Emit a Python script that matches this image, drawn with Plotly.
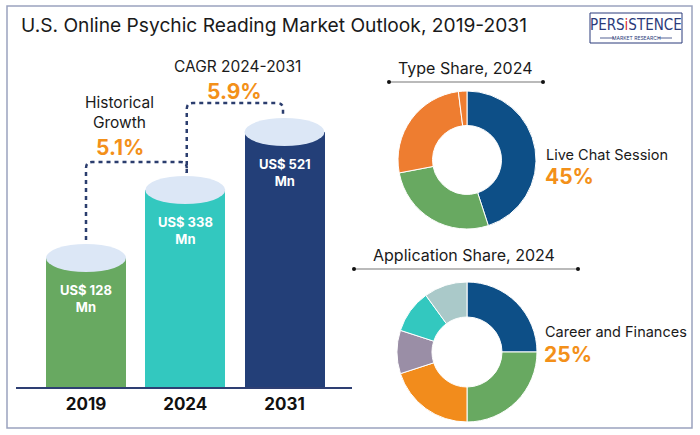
import plotly.graph_objects as go

W, H = 700, 435
FONT = "Inter, Open Sans, sans-serif"

# ---- data ----
years = ["2019", "2024", "2031"]
market_values = [128, 338, 521]          # US$ Mn (labels)
bar_heights = [129, 197, 255]            # drawn heights (infographic scale)
bar_colors = ["#68a961", "#33c8bf", "#233f78"]

hist_cagr = "5.1%"
fcst_cagr = "5.9%"

type_labels = ["Live Chat Session", "Phone Reading", "Video Reading", "Email Reading"]
type_values = [45, 27, 26, 2]
type_colors = ["#0d4f87", "#68a961", "#ee7d30", "#ee7d30"]

app_labels = ["Career and Finances", "Love and Relationships", "Health and Wellness",
              "Spiritual Guidance", "Family", "Others"]
app_values = [25, 25, 20, 10, 10, 10]
app_colors = ["#0d4f87", "#68a961", "#f28c1c", "#9a8ea6", "#33c8bf", "#aac9c9"]


def px(x):
    return x / W


def py(y):
    return 1 - y / H


fig = go.Figure()

# bar axis geometry (pixels)
base_px = 387
top_px = 50
step_px = 99.25
left_px, right_px = 16, 352
c0_px = 86
xr = [(left_px - c0_px) / step_px, (right_px - c0_px) / step_px]
bar_w = 80 / step_px
ry = 14

xs = list(range(len(years)))
fig.add_trace(go.Bar(
    x=xs, y=bar_heights, width=bar_w, marker=dict(color=bar_colors, line=dict(width=0)),
    hoverinfo="skip", showlegend=False, xaxis="x", yaxis="y",
))

shapes = []
annotations = []


def ann(**kw):
    kw.setdefault("showarrow", False)
    kw.setdefault("xanchor", "center")
    kw.setdefault("yanchor", "middle")
    annotations.append(dict(**kw))


# cylinder tops
for i, h in enumerate(bar_heights):
    shapes.append(dict(type="circle", xref="x", yref="y",
                       x0=i - bar_w / 2, x1=i + bar_w / 2, y0=h - ry, y1=h + ry,
                       fillcolor="#dce7f6", line=dict(width=0), layer="above"))
    ann(xref="x", yref="y", x=i, y=h - 40,
        text=f"<b>US$ {market_values[i]}<br>Mn</b>",
        font=dict(family=FONT, size=13, color="white"), align="center")


# dashed connectors with rounded corners
def connector(xa, ya, xb, yb, ylev):
    rx = 6 / step_px
    r = 6
    return (f"M {xa},{ya} L {xa},{ylev - r} Q {xa},{ylev} {xa + rx},{ylev} "
            f"L {xb - rx},{ylev} Q {xb},{ylev} {xb},{ylev - r} L {xb},{yb}")


xm = 1 + 1.5 / step_px
shapes.append(dict(type="path", xref="x", yref="y",
                   path=connector(0, bar_heights[0] + ry + 4, xm, bar_heights[1] + ry + 3, 225),
                   line=dict(color="#2b3d6e", width=2.5, dash="4px,4px")))
shapes.append(dict(type="path", xref="x", yref="y",
                   path=connector(xm, bar_heights[1] + ry + 3, 2 - 1.5 / step_px, bar_heights[2] + ry + 1, 284),
                   line=dict(color="#2b3d6e", width=2.5, dash="4px,4px")))

ann(xref="x", yref="y", x=0.34, y=274, text="Historical<br>Growth",
    font=dict(family=FONT, size=15.5, color="#1a1a1a"), align="center")
ann(xref="x", yref="y", x=0.34, y=240, text=f"<b>{hist_cagr}</b>",
    font=dict(family=FONT, size=21, color="#f39019"))
ann(xref="x", yref="y", x=1.53, y=320, text="CAGR 2024-2031",
    font=dict(family=FONT, size=15.5, color="#1a1a1a"))
ann(xref="x", yref="y", x=1.50, y=295, text=f"<b>{fcst_cagr}</b>",
    font=dict(family=FONT, size=21, color="#f39019"))


# donuts
def donut(labels, values, colors, cx, cy, r, rot=0):
    fig.add_trace(go.Pie(
        labels=labels, values=values, hole=0.5, sort=False, direction="clockwise",
        rotation=rot, textinfo="none", hoverinfo="label+percent", showlegend=False,
        marker=dict(colors=colors, line=dict(color="white", width=1)),
        domain=dict(x=[px(cx - r), px(cx + r)], y=[py(cy + r), py(cy - r)]),
    ))


donut(type_labels, type_values, type_colors, 467, 160, 69)
donut(app_labels, app_values, app_colors, 467, 352, 70)


def section_title(text, cx, ty, lx0, lx1, ly):
    ann(xref="paper", yref="paper", x=px(cx), y=py(ty), text=text,
        font=dict(family=FONT, size=16, color="#1a1a1a"))
    shapes.append(dict(type="line", xref="paper", yref="paper", x0=px(lx0), x1=px(lx1),
                       y0=py(ly), y1=py(ly), line=dict(color="#777", width=1.2)))
    for lx in (lx0, lx1):
        shapes.append(dict(type="circle", xref="paper", yref="paper",
                           x0=px(lx - 2), x1=px(lx + 2), y0=py(ly + 2), y1=py(ly - 2),
                           fillcolor="#111", line=dict(width=0)))


section_title("Type Share, 2024", 465, 68, 389, 543, 82)
section_title("Application Share, 2024", 464, 255, 354, 578, 269)


def callout(label, pct, x, y1, y2):
    ann(xref="paper", yref="paper", x=px(x), y=py(y1), text=label, xanchor="left",
        font=dict(family=FONT, size=14.5, color="#1a1a1a"))
    ann(xref="paper", yref="paper", x=px(x - 1), y=py(y2), text=f"<b>{pct}%</b>", xanchor="left",
        font=dict(family=FONT, size=21, color="#f39019"))


callout(type_labels[0], type_values[0], 544, 154, 177)
callout(app_labels[0], app_values[0], 543, 331, 354)

# title
ann(xref="paper", yref="paper", x=px(19), y=py(25), xanchor="left",
    text="U.S. Online Psychic Reading Market Outlook, 2019-2031",
    font=dict(family=FONT, size=19.2, color="#1a1a1a"))

# logo
shapes.append(dict(type="rect", xref="paper", yref="paper", x0=px(590), x1=px(682),
                   y0=py(43), y1=py(13), line=dict(color="#2a3a7a", width=1), layer="below"))
ann(xref="paper", yref="paper", x=px(636), y=py(25),
    text="PERS<span style='color:#d7262e'>i</span>STENCE",
    font=dict(family="DejaVu Sans Condensed, Roboto, sans-serif", size=15, color="#2a3a7a"))
ann(xref="paper", yref="paper", x=px(636), y=py(38), text="MARKET RESEARCH",
    font=dict(family=FONT, size=5, color="#2a3a7a"))
for a, b in ((600, 614), (658, 672)):
    shapes.append(dict(type="line", xref="paper", yref="paper", x0=px(a), x1=px(b),
                       y0=py(38), y1=py(38), line=dict(color="#2a3a7a", width=0.8)))

# frame
shapes.append(dict(type="rect", xref="paper", yref="paper", x0=px(7), x1=px(692),
                   y0=py(428), y1=py(6), line=dict(color="#9aa3bf", width=1.5), layer="below"))

fig.update_layout(
    width=W, height=H, margin=dict(l=0, r=0, t=0, b=0),
    paper_bgcolor="white", plot_bgcolor="white",
    xaxis=dict(domain=[px(left_px), px(right_px)], range=xr, tickvals=xs,
               ticktext=[f"<b>{y}</b>" for y in years],
               showgrid=False, zeroline=False, showline=True, linecolor="#2e3f73", linewidth=1.5,
               ticks="", tickfont=dict(family=FONT, size=17, color="#111", weight=800),
               ticklabelstandoff=1, fixedrange=True),
    yaxis=dict(domain=[py(base_px), py(top_px)], range=[0, base_px - top_px], visible=False,
               fixedrange=True),
    shapes=shapes, annotations=annotations, bargap=0,
)

fig.write_html("out.html")
